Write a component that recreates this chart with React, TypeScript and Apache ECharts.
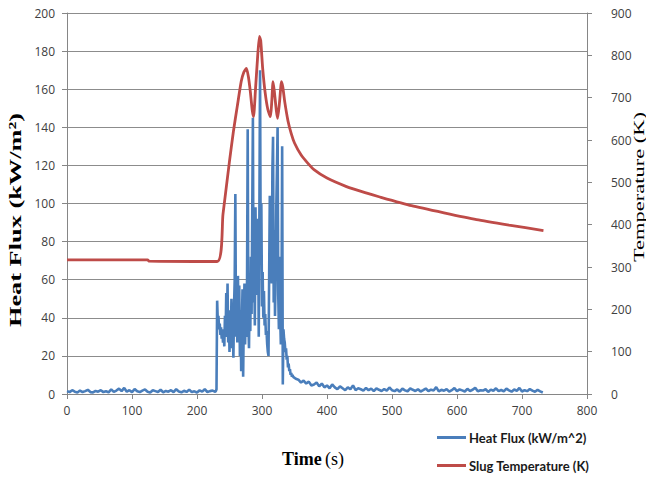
import React, { useEffect, useRef } from 'react';
import * as echarts from 'echarts';

// Heat flux (kW/m^2), quiet period: t = 0, 4, 8, ... s
const fluxStart = [1.5, 1.0, 2.0, 1.2, 0.8, 1.8, 1.0, 1.5, 2.2, 1.0, 0.8, 1.6, 1.2, 2.0, 1.0, 1.4, 0.9, 2.4, 1.1, 1.8, 2.8, 1.5, 3.2, 1.2, 2.0, 1.0, 2.6, 1.4, 1.0, 1.8, 2.4, 1.2, 0.8, 2.0, 1.5, 1.0, 2.2, 0.9, 1.6, 1.2, 2.0, 1.0, 2.5, 1.3, 0.9, 1.7, 1.1, 2.3, 1.0, 1.4, 0.8, 1.9, 1.2, 2.6, 1.0, 1.5, 1.8, 1.2];
const fluxStartT0 = 0;
const fluxStartStep = 4;

// Heat flux, active period: t = 229, 230, ... 347 s
const fluxActive = [1.5, 2.5, 49, 38, 41, 34, 37, 31, 35, 29, 33, 27, 34, 25, 41, 30, 53, 34, 58, 27, 44, 22, 38, 29, 50, 24, 36, 19, 46, 60, 105, 30, 52, 27, 62, 34, 57, 20, 44, 12, 36, 55, 9, 40, 58, 26, 47, 30, 60, 139, 38, 24, 58, 33, 72, 42, 96, 145, 48, 68, 36, 98, 62, 92, 52, 88, 30, 97, 170, 72, 100, 46, 64, 40, 54, 36, 42, 31, 33, 26, 22, 20, 62, 104, 84, 100, 58, 118, 135, 48, 86, 41, 62, 98, 118, 140, 52, 34, 72, 40, 26, 48, 130, 5, 34, 29, 27, 22, 24, 18, 20, 14, 16, 12, 13, 10, 11, 9, 10];
const fluxActiveT0 = 229;
const fluxActiveStep = 1;

// Heat flux, tail: t = 348, 352, ... s
const fluxTail = [9, 8, 7.5, 6, 7, 5.5, 6.5, 4.5, 5, 6, 4, 5.5, 3.5, 4.5, 3, 5, 3.5, 2.5, 4, 3, 2, 3.5, 2.5, 4.5, 2, 3, 2.5, 1.8, 3.2, 2, 2.8, 1.5, 3, 2.2, 1.6, 2.6, 1.8, 3.4, 2, 1.5, 2.4, 1.2, 2.8, 1.9, 1.4, 3, 2.2, 1.6, 2.5, 1.3, 2, 2.9, 1.5, 2.3, 1.8, 3.6, 1.4, 2.2, 1.7, 2.6, 1.2, 2, 3.1, 1.5, 2.4, 1.9, 1.3, 2.7, 1.6, 2.2, 3.3, 1.4, 2, 1.8, 2.5, 1.1, 2.3, 1.7, 3, 1.5, 2.1, 1.4, 2.8, 1.9, 1.2, 2.4, 1.6, 3.2, 1.3, 2, 1.5, 2.6, 1.8, 1.2, 2.2, 1.4, 0.8];
const fluxTailT0 = 348;
const fluxTailStep = 4;

// Slug temperature (K)
const tempTimes = [0, 124, 126, 231, 240, 250, 256, 262, 268, 272, 276, 279, 282, 285, 287, 290, 293, 296, 298, 301, 305, 309, 313, 315, 317, 319, 322, 324, 327, 330, 332, 335, 340, 345, 350, 360, 370, 380, 400, 430, 460, 480, 530, 580, 630, 680, 733];
const tempValues = [317, 317, 314, 313, 425, 550, 620, 680, 738, 760, 769, 750, 715, 670, 655, 720, 790, 845, 835, 770, 710, 672, 655, 690, 738, 715, 670, 651, 690, 738, 725, 690, 645, 615, 593, 565, 546, 530, 510, 490, 475, 466, 445, 428, 412, 399, 386];

const legendNames = ['Heat Flux (kW/m^2)', 'Slug Temperature (K)'];

function seg(values: number[], t0: number, step: number): [number, number][] {
  return values.map((v, i) => [t0 + i * step, v]);
}

export default function App() {
  const ref = useRef<HTMLDivElement>(null);
  useEffect(() => {
    if (!ref.current) return;
    const chart = echarts.init(ref.current, undefined, { renderer: 'svg' });
    const fluxData = [
      ...seg(fluxStart, fluxStartT0, fluxStartStep),
      ...seg(fluxActive, fluxActiveT0, fluxActiveStep),
      ...seg(fluxTail, fluxTailT0, fluxTailStep),
    ];
    const tempData = tempTimes.map((t, i) => [t, tempValues[i]]);
    const axisGray = '#868686';
    const labelStyle = { color: '#404040', fontSize: 12, fontFamily: 'Open Sans' };
    const legendBase = {
      orient: 'horizontal', left: 437, itemWidth: 29, itemHeight: 3, itemGap: 10,
      icon: 'rect', padding: 0,
      textStyle: { fontFamily: 'Lato', fontWeight: 'bold', fontSize: 13, color: '#1a1a1a', padding: [0, 0, 0, -2] },
    };
    chart.setOption({
      animation: false,
      backgroundColor: '#ffffff',
      grid: { left: 67, right: 59, top: 13, bottom: 83, containLabel: false },
      xAxis: {
        type: 'value', min: 0, max: 800, interval: 100,
        axisLine: { show: true, lineStyle: { color: axisGray } },
        axisTick: { show: true, length: 5, lineStyle: { color: axisGray } },
        splitLine: { show: false },
        axisLabel: { ...labelStyle, margin: 10 },
      },
      yAxis: [
        {
          type: 'value', min: 0, max: 200, interval: 20, position: 'left',
          axisLine: { show: true, lineStyle: { color: axisGray } },
          axisTick: { show: true, length: 5, lineStyle: { color: axisGray } },
          splitLine: { show: true, lineStyle: { color: '#8c8c8c', width: 1 } },
          axisLabel: { ...labelStyle, margin: 12 },
        },
        {
          type: 'value', min: 0, max: 900, interval: 100, position: 'right',
          axisLine: { show: true, lineStyle: { color: axisGray } },
          axisTick: { show: true, length: 5, lineStyle: { color: axisGray } },
          splitLine: { show: false },
          axisLabel: { ...labelStyle, margin: 24 },
        },
      ],
      legend: [
        { ...legendBase, top: 431, data: [legendNames[0]] },
        { ...legendBase, top: 459, data: [legendNames[1]] },
      ],
      series: [
        {
          name: legendNames[0], type: 'line', yAxisIndex: 0, data: fluxData,
          showSymbol: false, symbol: 'none',
          lineStyle: { color: '#4a7ebb', width: 2.6 }, itemStyle: { color: '#4a7ebb' },
        },
        {
          name: legendNames[1], type: 'line', yAxisIndex: 1, data: tempData,
          showSymbol: false, symbol: 'none', smooth: 0.2,
          lineStyle: { color: '#be4b48', width: 2.8 }, itemStyle: { color: '#be4b48' },
        },
      ],
      graphic: [
        {
          type: 'text', x: 15, y: 220, rotation: Math.PI / 2, scaleX: 1.55,
          style: { text: 'Heat Flux (kW/m²)', font: 'bold 17px "Liberation Serif"', fill: '#000', align: 'center', verticalAlign: 'middle' },
        },
        {
          type: 'text', x: 639, y: 187, rotation: Math.PI / 2, scaleX: 1.5,
          style: { text: 'Temperature (K)', font: '15px "Liberation Serif"', fill: '#000', align: 'center', verticalAlign: 'middle' },
        },
        {
          type: 'text', x: 313, y: 459,
          style: {
            text: '{b|Time} {r|(s)}', align: 'center', verticalAlign: 'middle', fill: '#000',
            rich: {
              b: { fontFamily: 'Liberation Serif', fontWeight: 'bold', fontSize: 18, fill: '#000' },
              r: { fontFamily: 'Liberation Serif', fontSize: 18, fill: '#000' },
            },
          },
        },
      ],
    });
    return () => chart.dispose();
  }, []);
  return <div ref={ref} style={{ position: 'fixed', left: 0, top: 0, width: 646, height: 477 }} />;
}
